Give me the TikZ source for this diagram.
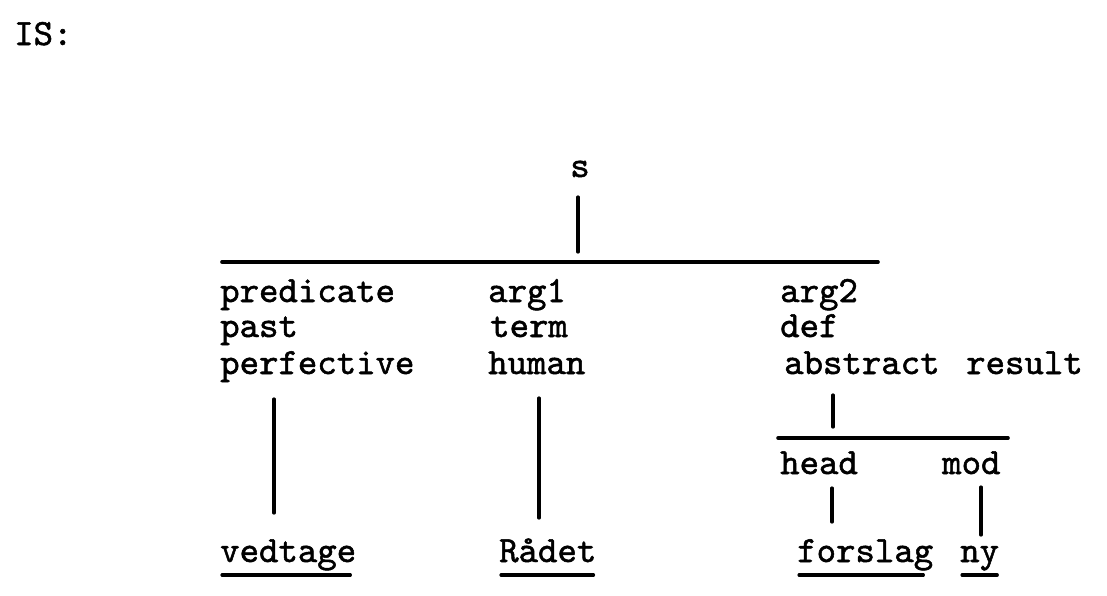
\documentclass[tikz,border=0pt]{standalone}
\usepackage{fontspec}
\newfontfamily\twfont{lmmono10-regular}[Extension=.otf, FakeBold=1.4]
\usetikzlibrary{calc}
\begin{document}
\begin{tikzpicture}[x=1pt,y=-1pt,
  lbl/.style={anchor=base west, inner sep=0pt, font=\twfont\fontsize{37}{40}\selectfont},
  edge/.style={line width=3.2pt, line cap=round}]
\useasboundingbox (0,0) rectangle (1107,595);
% labels
\node[lbl] (is) at (14,45) {IS:};
\node[lbl, anchor=base] (s) at (580,177) {s};
\node[lbl] (pred) at (220,302) {predicate};
\node[lbl] (past) at (220,337) {past};
\node[lbl] (perf) at (220,374) {perfective};
\node[lbl] (arg1) at (488,302) {arg1};
\node[lbl] (term) at (490,337) {term};
\node[lbl] (human) at (488,374) {human};
\node[lbl] (arg2) at (780,302) {arg2};
\node[lbl] (def) at (780,337) {def};
\node[lbl] (abstr) at (784,374) {abstract};
\node[lbl] (result) at (966,374) {result};
\node[lbl] (head) at (780,474) {head};
\node[lbl] (mod) at (942,474) {mod};
\node[lbl] (ved) at (220,562) {vedtage};
\node[lbl] (radet) at (499,562) {Rådet};
\node[lbl] (forslag) at (797,562) {forslag};
\node[lbl] (ny) at (960,562) {ny};
% bars
\coordinate (b1l) at (222,262);
\coordinate (b1r) at (878,262);
\coordinate (b2l) at (778,438);
\coordinate (b2r) at (1008,438);
\draw[edge, line width=3.6pt] (b1l) -- (b1r);
\draw[edge, line width=3.6pt] (b2l) -- (b2r);
% verticals
\draw[edge] ($(s.base)+(-2,20)$) -- ($(s.base)+(-2,75)$);
\draw[edge] ($(perf.base west)+(54,25)$) -- ($(ved.base west)+(54,-49)$);
\draw[edge] ($(human.base west)+(51,24)$) -- ($(radet.base west)+(40,-44)$);
\draw[edge] ($(abstr.base west)+(49,21)$) -- ($(abstr.base west)+(49,53)$);
\draw[edge] ($(head.base west)+(52,14)$) -- ($(forslag.base west)+(35,-40)$);
\draw[edge] ($(mod.base west)+(39,13)$) -- ($(ny.base west)+(21,-27)$);
% underlines
\draw[edge] ($(ved.base west)+(2,13)$) -- ($(ved.base east)+(-6,13)$);
\draw[edge] ($(radet.base west)+(2,13)$) -- ($(radet.base east)+(-3,13)$);
\draw[edge] ($(forslag.base west)+(2,13)$) -- ($(forslag.base east)+(-10,13)$);
\draw[edge] ($(ny.base west)+(2,13)$) -- ($(ny.base east)+(-2,13)$);
\end{tikzpicture}
\end{document}
